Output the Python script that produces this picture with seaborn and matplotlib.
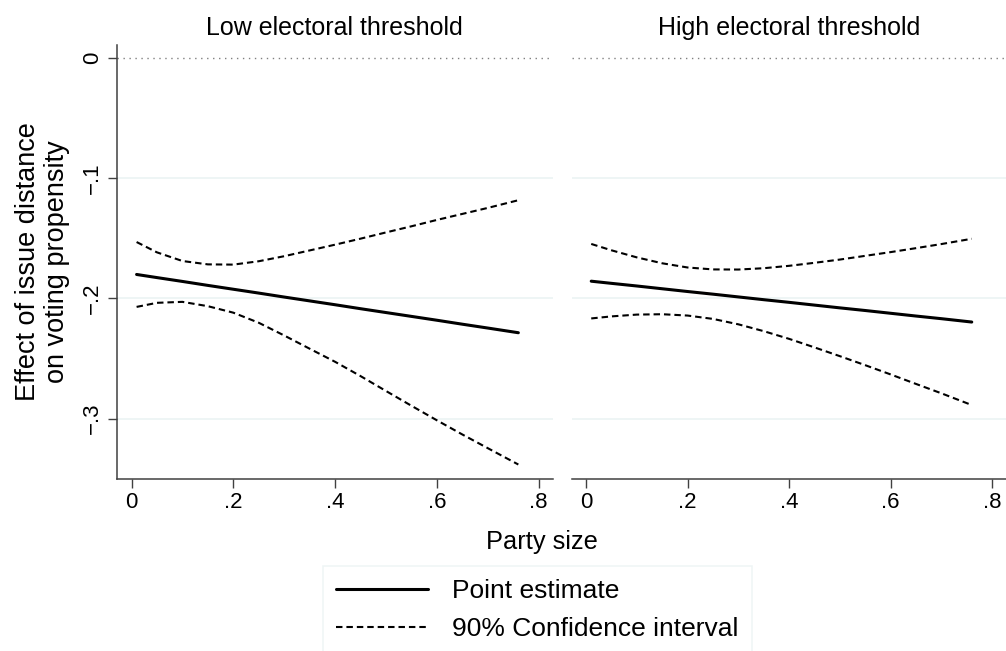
import numpy as np
import pandas as pd
import matplotlib
matplotlib.use('Agg')
import matplotlib.pyplot as plt
import seaborn as sns

# party size grid (x) used for the marginal-effect lines
party_size = [0.01, 0.05, 0.10, 0.15, 0.20, 0.25, 0.30, 0.35,
              0.40, 0.45, 0.50, 0.55, 0.60, 0.65, 0.70, 0.76]

# low electoral threshold
low_est = [-0.1800, -0.1826, -0.1858, -0.1891, -0.1923, -0.1955, -0.1988, -0.2020,
           -0.2052, -0.2085, -0.2117, -0.2149, -0.2181, -0.2214, -0.2246, -0.2285]
low_upper = [-0.1530, -0.1616, -0.1688, -0.1716, -0.1718, -0.1690, -0.1648, -0.1600,
             -0.1552, -0.1502, -0.1450, -0.1399, -0.1346, -0.1296, -0.1246, -0.1182]
low_lower = [-0.2070, -0.2036, -0.2028, -0.2064, -0.2118, -0.2202, -0.2308, -0.2418,
             -0.2527, -0.2646, -0.2770, -0.2893, -0.3014, -0.3132, -0.3246, -0.3382]

# high electoral threshold
high_est = [-0.1856, -0.1874, -0.1896, -0.1919, -0.1942, -0.1964, -0.1987, -0.2010,
            -0.2032, -0.2055, -0.2078, -0.2100, -0.2123, -0.2146, -0.2168, -0.2196]
high_upper = [-0.1546, -0.1599, -0.1658, -0.1707, -0.1742, -0.1758, -0.1759, -0.1748,
              -0.1728, -0.1703, -0.1676, -0.1645, -0.1614, -0.1581, -0.1547, -0.1503]
high_lower = [-0.2166, -0.2149, -0.2134, -0.2131, -0.2142, -0.2170, -0.2215, -0.2272,
              -0.2336, -0.2407, -0.2480, -0.2555, -0.2632, -0.2711, -0.2789, -0.2887]

panel_titles = ['Low electoral threshold', 'High electoral threshold']
x_ticks = [0, 0.2, 0.4, 0.6, 0.8]
x_ticklabels = ['0', '.2', '.4', '.6', '.8']
y_ticks = [0, -0.1, -0.2, -0.3]
y_ticklabels = ['0', '\u2212.1', '\u2212.2', '\u2212.3']
legend_labels = ['Point estimate', '90% Confidence interval']

sns.set_style('white')
plt.rcParams['font.family'] = ['Liberation Sans', 'DejaVu Sans']
plt.rcParams['text.color'] = 'black'
plt.rcParams['xtick.color'] = 'black'
plt.rcParams['ytick.color'] = 'black'

W, H = 1006, 651
fig = plt.figure(figsize=(W / 100, H / 100), dpi=100)
ax1 = fig.add_axes([117 / W, 1 - 479.3 / H, 435.7 / W, 434.3 / H])
ax2 = fig.add_axes([571.7 / W, 1 - 479.3 / H, 434.3 / W, 434.3 / H])

axis_col = '#404040'
grid_col = '#EAF2F3'
dash = (0, (3.1, 1.9))

panels = [(ax1, low_est, low_upper, low_lower),
          (ax2, high_est, high_upper, high_lower)]

for i, (ax, est, up, lo) in enumerate(panels):
    df = pd.DataFrame({'size': party_size, 'est': est, 'up': up, 'lo': lo})
    for g in y_ticks[1:]:
        ax.axhline(g, color=grid_col, lw=1.1, zorder=0)
    ax.axhline(0, color='#808080', lw=1.0, linestyle=(0, (1, 3.3)), zorder=1)
    sns.lineplot(data=df, x='size', y='est', ax=ax, color='black', lw=2.2)
    sns.lineplot(data=df, x='size', y='up', ax=ax, color='black', lw=1.5,
                 linestyle=dash)
    sns.lineplot(data=df, x='size', y='lo', ax=ax, color='black', lw=1.5,
                 linestyle=dash)

    ax.set_xlim(-0.0285, 0.8275)
    ax.set_ylim(-0.3505, 0.011)
    ax.set_xlabel('')
    ax.set_ylabel('')
    ax.set_xticks(x_ticks)
    ax.set_xticklabels(x_ticklabels)
    ax.tick_params(axis='x', direction='out', length=6.3, width=1,
                   color=axis_col, labelsize=16, pad=3, bottom=True)
    for s in ['top', 'right']:
        ax.spines[s].set_visible(False)
    ax.spines['bottom'].set_color(axis_col)
    ax.spines['bottom'].set_linewidth(1.1)
    ax.text(0.5, 1 + 10 / 434.3, panel_titles[i], transform=ax.transAxes,
            ha='center', va='baseline', fontsize=18)

ax1.set_yticks(y_ticks)
ax1.set_yticklabels(y_ticklabels, rotation=90, va='center')
ax1.tick_params(axis='y', direction='out', length=6.3, width=1,
                color=axis_col, labelsize=16, pad=4, left=True)
ax1.spines['left'].set_color(axis_col)
ax1.spines['left'].set_linewidth(1.1)

ax2.set_yticks([])
ax2.spines['left'].set_visible(False)

fig.text(43 / W, 1 - 262 / H, 'Effect of issue distance\non voting propensity',
         rotation=90, ha='center', va='center', multialignment='center',
         fontsize=19.5, linespacing=1.15)
fig.text(542 / W, 1 - 542 / H, 'Party size', ha='center', va='center',
         fontsize=18.3)

handles = [ax1.lines[-3], ax1.lines[-2]]
leg = fig.legend(handles, legend_labels, loc='upper left',
                 bbox_to_anchor=(322.7 / W, 1 - 565.7 / H),
                 fontsize=19, frameon=True, fancybox=False,
                 edgecolor=grid_col, borderpad=0.5, handlelength=3.5,
                 handletextpad=0.9, labelspacing=0.55, borderaxespad=0)
leg.get_frame().set_linewidth(1.1)

fig.savefig('out.png', dpi=100)
